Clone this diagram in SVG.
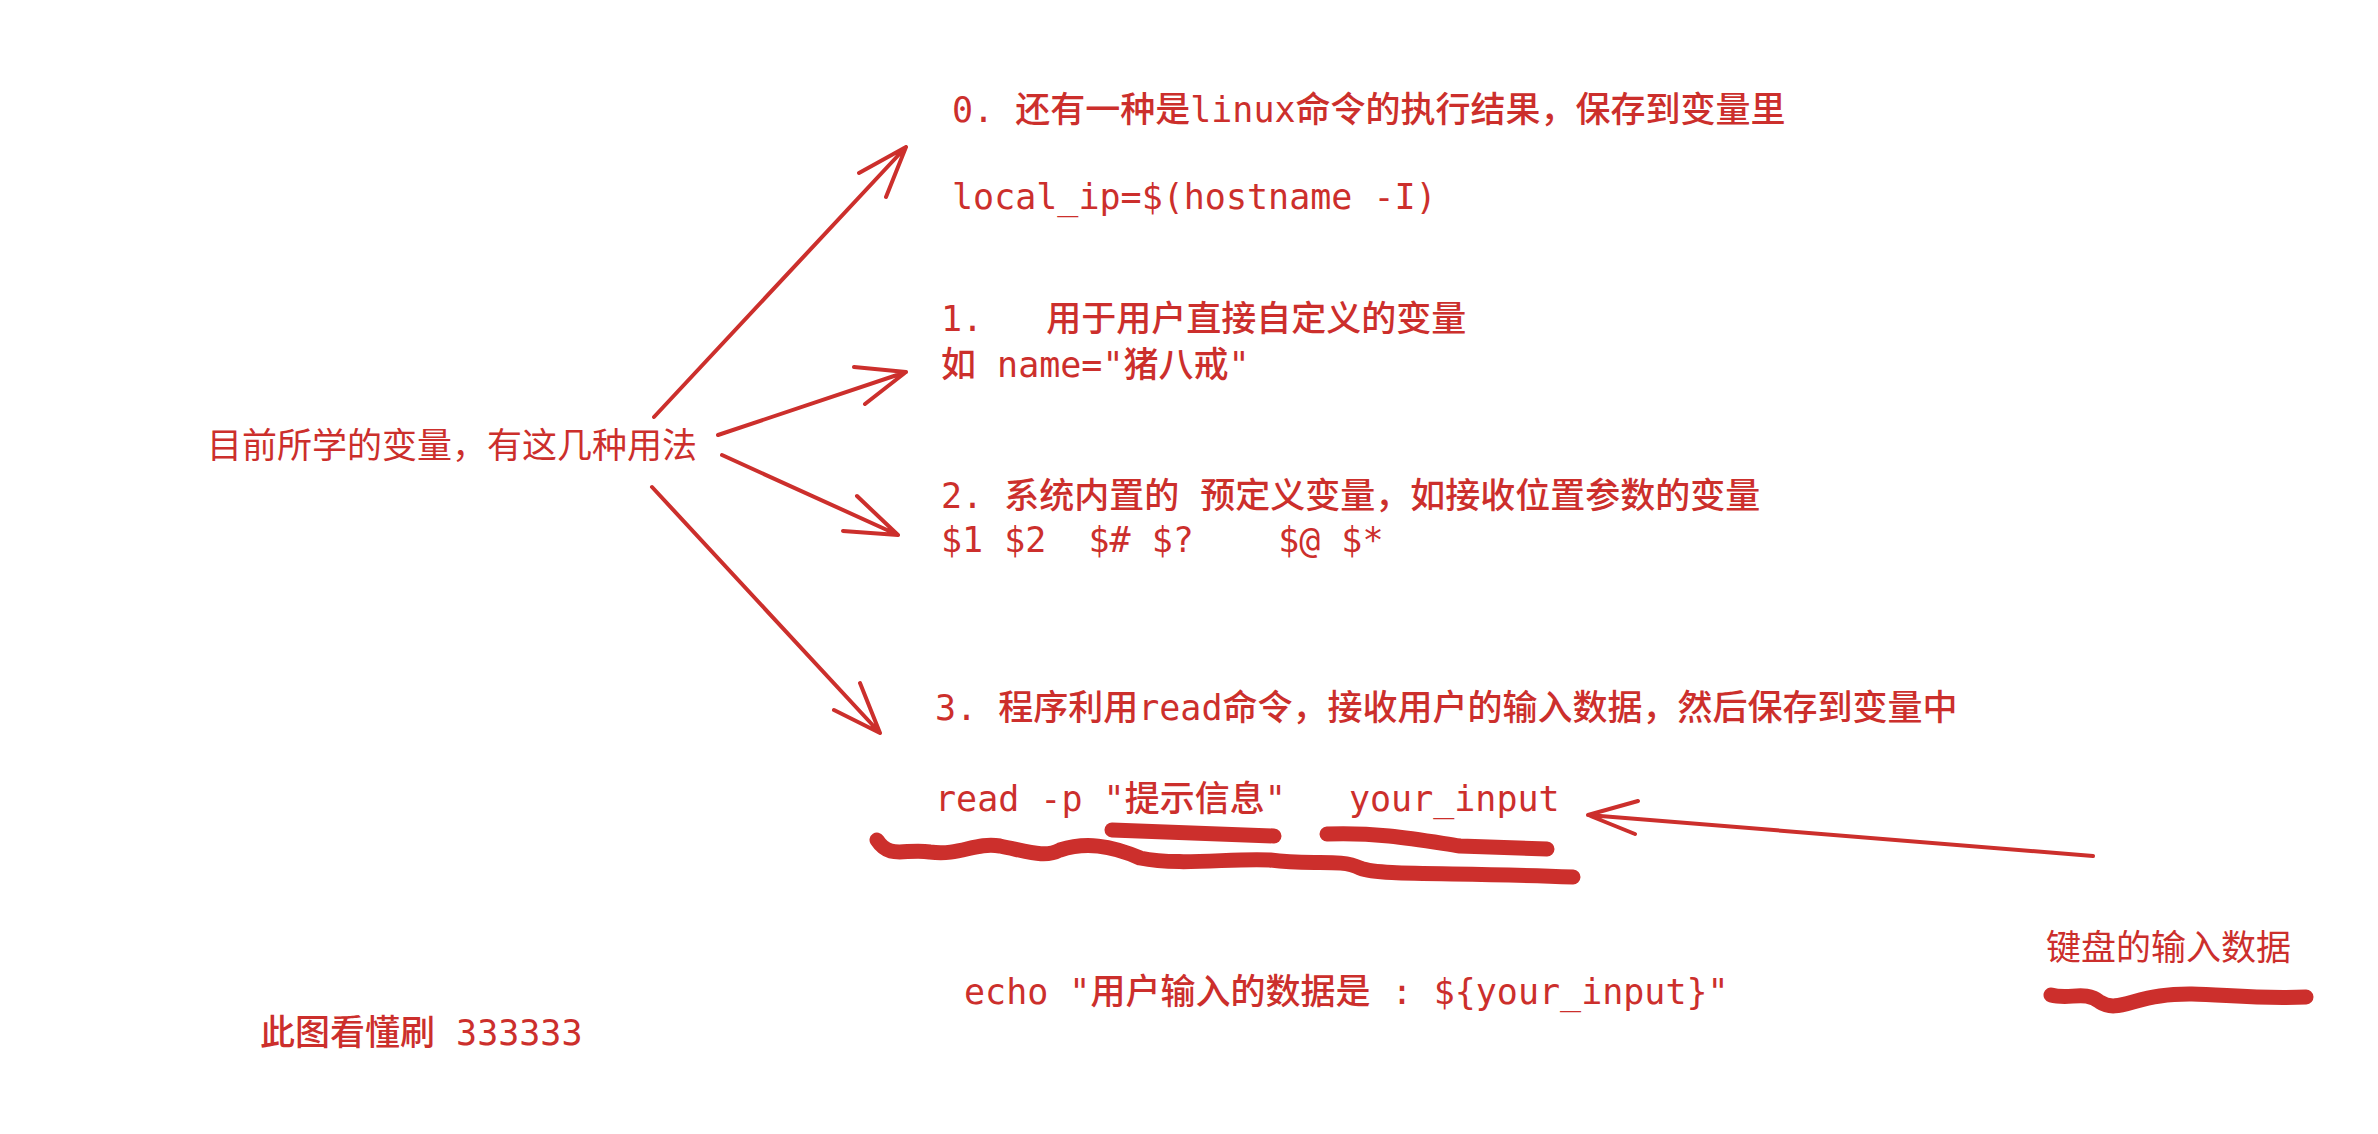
<svg xmlns="http://www.w3.org/2000/svg" width="2378" height="1134" viewBox="0 0 2378 1134">
<style>
text{white-space:pre}
.m{font-family:"DejaVu Sans Mono","Noto Sans CJK SC",monospace;font-size:35px;fill:#cc2f2c;font-weight:500}
.s{font-family:"Noto Sans CJK SC","Noto Sans",sans-serif;font-size:35px;fill:#cc2f2c}
.a{stroke:#cc2f2c;stroke-width:4;fill:none;stroke-linecap:round;stroke-linejoin:round}
.w{stroke:#cc2f2c;stroke-width:15;fill:none;stroke-linecap:round;stroke-linejoin:round}
</style>
<rect width="2378" height="1134" fill="#fff"/>
<g id="src"><text class="s" x="207" y="458">目前所学的变量，有这几种用法</text></g>
<g id="n0"><text class="m" x="952" y="122" xml:space="preserve">0. 还有一种是linux命令的执行结果，保存到变量里</text><text class="m" x="952" y="209">local_ip=$(hostname -I)</text></g>
<g id="n1"><text class="m" x="941" y="331" xml:space="preserve">1.   用于用户直接自定义的变量</text><text class="m" x="941" y="377">如 name="猪八戒"</text></g>
<g id="n2"><text class="m" x="941" y="508" xml:space="preserve">2. 系统内置的 预定义变量，如接收位置参数的变量</text><text class="m" x="941" y="552" xml:space="preserve">$1 $2  $# $?    $@ $*</text></g>
<g id="n3"><text class="m" x="935" y="720" xml:space="preserve">3. 程序利用read命令，接收用户的输入数据，然后保存到变量中</text><text class="m" x="935" y="811" xml:space="preserve">read -p "提示信息"   your_input</text></g>
<g id="echo"><text class="m" x="964" y="1004" xml:space="preserve">echo "用户输入的数据是 : ${your_input}"</text></g>
<g id="note"><text class="m" x="260" y="1045" xml:space="preserve">此图看懂刷 333333</text></g>
<g id="kb"><text class="s" x="2046" y="960">键盘的输入数据</text></g>
<g id="connectors">
<path class="a" d="M654,417 L906,147 M859,173 L906,147 L886,197"/>
<path class="a" d="M718,435 L906,372 M854,367 L906,372 L865,404"/>
<path class="a" d="M722,455 L898,535 M857,496 L898,535 L843,531"/>
<path class="a" d="M652,487 L880,733 M860,683 L880,733 L834,710"/>
<path class="a" d="M2093,856 L1588,815 M1638,801 L1588,815 L1635,834"/>
</g>
<g id="marks">
<path class="w" d="M1112,830 L1274,836"/>
<path class="w" d="M1327,834 C1380,832 1420,840 1460,846 L1547,849"/>
<path class="w" d="M877,840 C890,860 905,848 930,852 C960,856 975,842 1000,846 C1030,852 1045,858 1060,850 C1085,842 1110,845 1140,858 C1180,866 1230,858 1270,860 C1310,866 1340,858 1360,868 C1380,876 1450,872 1573,877"/>
<path class="w" d="M2051,995 C2070,1000 2085,990 2100,1002 C2115,1012 2130,1000 2160,996 C2200,990 2240,1000 2306,997"/>
</g>
</svg>
